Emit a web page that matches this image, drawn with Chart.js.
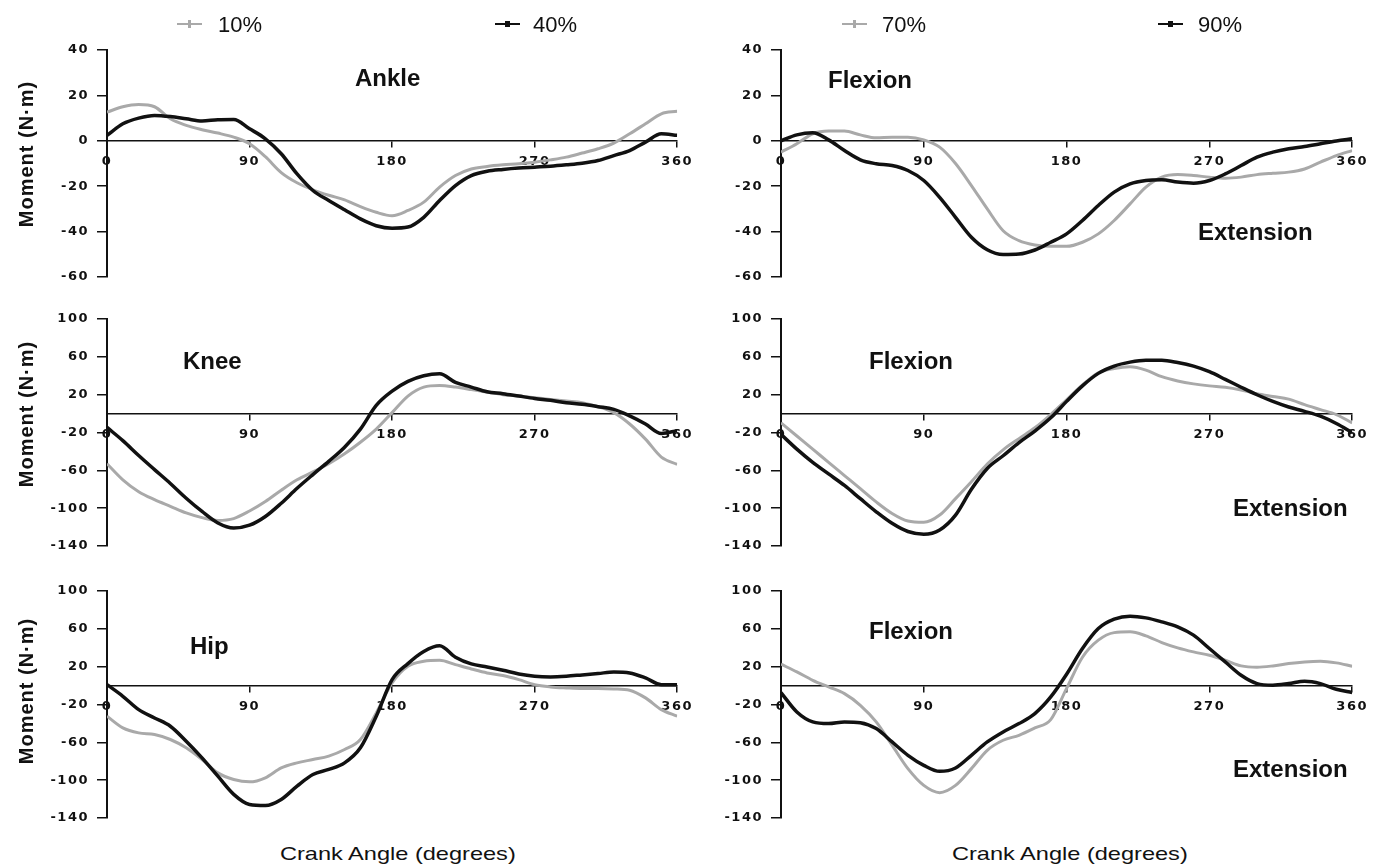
<!DOCTYPE html>
<html>
<head>
<meta charset="utf-8">
<script src="https://cdn.jsdelivr.net/npm/chart.js@4.4.1/dist/chart.umd.min.js"></script>
<style>
body { margin: 0; background: #fff; overflow: hidden; }
#wrap { position: relative; width: 1375px; height: 864px; font-family: "Liberation Sans", Arial, sans-serif; color: #111; }
canvas { position: absolute; }
.lbl { position: absolute; font-weight: bold; font-size: 24px; line-height: 1; white-space: nowrap; transform: translateY(-50%); }
.ytitle { position: absolute; font-weight: bold; font-size: 20px; letter-spacing: 1px; white-space: nowrap; line-height: 1; transform: translate(-50%, -50%) rotate(-90deg); }
.xtitle { position: absolute; font-size: 19px; white-space: nowrap; line-height: 1; transform-origin: left center; transform: translateY(-50%) scaleX(1.24); }
.leg { position: absolute; font-size: 22px; line-height: 1; transform: translateY(-50%); }
.legline { position: absolute; height: 2px; width: 25px; }
.legmark { position: absolute; }
</style>
</head>
<body>
<div id="wrap">
  <canvas id="c1"></canvas>
  <canvas id="c2"></canvas>
  <canvas id="c3"></canvas>
  <canvas id="c4"></canvas>
  <canvas id="c5"></canvas>
  <canvas id="c6"></canvas>
</div>
<script>
// crank angle (degrees)
const angles = [0,10,20,30,40,50,60,70,80,90,100,110,120,130,140,150,160,170,180,190,200,210,220,230,240,250,260,270,280,290,300,310,320,330,340,350,360]

// moments (N·m)
const ankle10 = [12.6,15,16,15,9.7,6.8,4.9,3.4,1.6,-1.3,-7,-14,-18.5,-21.6,-24,-26,-29,-31.5,-33,-30.7,-27,-20.4,-15.3,-12.4,-11.3,-10.6,-10.1,-9.4,-8.4,-7.2,-5.4,-3.5,-1,3.1,7.5,11.9,13]
const ankle40 = [2.4,7.5,10,11.2,10.7,9.7,8.7,9.3,9.4,5.3,0.9,-5.7,-14.6,-21.9,-26.3,-30.4,-34.4,-37.4,-38.5,-38,-33.7,-26.3,-19.7,-15.3,-13.4,-12.6,-12,-11.6,-11.2,-10.6,-9.9,-8.7,-6.5,-4.3,-0.6,3.1,2.4]
const ankle70 = [-5,-1.3,3.1,4.3,4.3,2.6,1.3,1.6,1.6,0.4,-2.8,-10,-19.7,-30,-39.6,-44,-45.9,-46.5,-46.5,-44.7,-41,-35.1,-27.8,-20.4,-16,-14.9,-15.3,-16,-16.5,-16,-14.9,-14.3,-13.8,-12.4,-9.4,-6.5,-4.3]
const ankle90 = [0,2.6,3.5,0.4,-4.3,-8.4,-10.1,-10.9,-13.1,-17.5,-24.9,-33.7,-42.5,-48,-50.1,-49.9,-48.1,-44.7,-41,-35.1,-28.5,-22.6,-19,-17.5,-17.2,-18.2,-18.7,-17.5,-14.6,-10.9,-7.2,-5,-3.5,-2.5,-1.3,-0.1,0.9]

const knee10 = [-53,-70,-82.6,-91,-98,-105,-110,-113,-111,-103,-93,-81,-70,-61.7,-53,-42.5,-30.3,-16.4,1,18.5,28,29.6,28,25.4,22.6,20,18.5,16.7,15,13.2,11.5,7.3,1,-11,-27,-46,-53.7]
const knee40 = [-14.6,-28.6,-44.3,-59.2,-73.9,-89.5,-103.5,-115.7,-121,-118,-108.8,-94.8,-79,-64.5,-50.5,-35.5,-16.4,8.7,23.7,34,40,42,33,28,23,21,18.5,16,14,11.5,9.8,7.3,4.5,-2.4,-11,-21,-18]
const knee70 = [-9.8,-23.7,-37.6,-51.6,-65.5,-79.4,-93.4,-105.6,-113.6,-115,-107.3,-89.9,-72,-53.3,-38.3,-26.5,-15,-1,14.6,30.3,43.2,47.7,49.5,46,39,34.5,31.4,29.3,27.9,25,21,18.1,15.3,9.4,4.2,-1,-9.8]
const knee90 = [-22,-37.6,-51.6,-63.8,-76,-90,-103.8,-116,-124.7,-127.5,-123,-107.3,-80,-58,-44.6,-30.7,-18.5,-4.5,12.9,29.3,42.5,50.2,54.4,56.4,56.4,54,50.2,44.3,36.2,27.9,19.9,12.9,7,2.4,-2.8,-10.5,-20]

const hip10 = [-32.4,-44.7,-50,-51.8,-57,-65.8,-78.2,-92.3,-99.3,-101.8,-97.5,-87,-81.7,-78.2,-74.6,-67.6,-57,-28.9,2.8,20.4,25.7,26.8,22.2,17.6,13.4,10.6,6.3,1,-1.4,-2.5,-3.2,-3.2,-3.5,-4.9,-13,-25.4,-32.4]
const hip40 = [1,-11.3,-25.4,-34.2,-43,-58.8,-76.4,-95.8,-115,-125.7,-126.8,-120.4,-106.3,-94,-88.7,-81.7,-65.8,-32.4,6.3,23.2,36,42,30,22.9,19.7,16.2,12.3,9.9,9.2,9.9,11.3,12.7,14.4,13.4,8.1,1,1]
const hip70 = [22.6,14.5,5.6,-1.4,-8.5,-20.8,-38.4,-63,-87.8,-105.5,-113.2,-105.5,-87.8,-68.4,-57.8,-52.6,-44.8,-36,-3,30,48,56,56.8,52.6,45.5,39.9,35.6,32,26.8,20.8,19.4,20.8,23.3,25,25.7,24,20.5]
const hip90 = [-7.4,-27.9,-38.4,-40.2,-38.4,-39.2,-45.5,-59.6,-73.7,-84.3,-90.7,-87.1,-73.7,-59.6,-49,-40.2,-29.6,-12,12,39.2,60.3,70.2,73.4,71.6,67.4,62.1,53.3,39.2,25,10.9,2.1,0.4,2.1,4.6,2.1,-3.9,-7.4]

const leftNames = ['10%', '40%']
const rightNames = ['70%', '90%']
const joints = ['Ankle', 'Knee', 'Hip']

const grey = '#a9a9a9'
const black = '#111111'

// placement of each column / row of panels
const cols = {
    left: { left: 0, width: 700, axisX: 107, right: 682 },
    right: { left: 700, width: 675, axisX: 781, right: 1355 }
}
const rowTops = [50, 319, 591]
const plotH = 227

// wider tick text, like the original figure
const spacing = {
    id: 'spacing',
    beforeLayout(chart) { chart.ctx.letterSpacing = '1.5px' },
    beforeDraw(chart) { chart.ctx.letterSpacing = '1.5px' }
}

const tickFont = { family: 'DejaVu Sans', weight: 'bold', size: 13 }

function toPoints(values) {
    return values.map((v, i) => ({ x: angles[i], y: v }))
}

function makeChart(id, col, row, yMin, yMax, yStep, light, dark) {
    let cv = document.getElementById(id)
    let top = rowTops[row] - 20
    cv.style.left = col.left + 'px'
    cv.style.top = top + 'px'
    cv.width = col.width
    cv.height = plotH + 40
    new Chart(cv, {
        type: 'line',
        data: {
            datasets: [
                { data: toPoints(light), borderColor: grey, borderWidth: 3, order: 2 },
                { data: toPoints(dark), borderColor: black, borderWidth: 3.5, order: 1 }
            ]
        },
        options: {
            responsive: false,
            animation: false,
            events: [],
            layout: { padding: { left: 0, top: 20, bottom: 20, right: col.left + col.width - col.right } },
            plugins: { legend: { display: false }, tooltip: { enabled: false } },
            elements: {
                point: { radius: 0 },
                line: { tension: 0.4, cubicInterpolationMode: 'monotone', fill: false }
            },
            scales: {
                x: {
                    type: 'linear', min: 0, max: 360, position: { y: 0 },
                    ticks: { stepSize: 90, color: black, font: tickFont, padding: 7, maxRotation: 0, autoSkip: false },
                    grid: { drawOnChartArea: false, drawTicks: true, tickLength: 6, color: black, lineWidth: 1.5 },
                    border: { display: true, color: black, width: 1.5 }
                },
                y: {
                    type: 'linear', min: yMin, max: yMax, position: 'left',
                    ticks: { stepSize: yStep, color: black, font: tickFont, padding: 8 },
                    grid: { drawOnChartArea: false, drawTicks: true, tickLength: 10, color: black, lineWidth: 1.5 },
                    border: { display: true, color: black, width: 2 },
                    afterFit: s => { s.width = col.axisX - col.left }
                }
            }
        },
        plugins: [spacing]
    })
}

makeChart('c1', cols.left, 0, -60, 40, 20, ankle10, ankle40)
makeChart('c2', cols.right, 0, -60, 40, 20, ankle70, ankle90)
makeChart('c3', cols.left, 1, -140, 100, 40, knee10, knee40)
makeChart('c4', cols.right, 1, -140, 100, 40, knee70, knee90)
makeChart('c5', cols.left, 2, -140, 100, 40, hip10, hip40)
makeChart('c6', cols.right, 2, -140, 100, 40, hip70, hip90)

// text on top of the charts
const wrap = document.getElementById('wrap')
function addText(cls, text, x, y) {
    let d = document.createElement('div')
    d.className = cls
    d.textContent = text
    d.style.left = x + 'px'
    d.style.top = y + 'px'
    wrap.appendChild(d)
    return d
}

// legend: line + marker + name
function legendItem(name, lineX, textX, color, square) {
    let l = document.createElement('div')
    l.className = 'legline'
    l.style.left = lineX + 'px'
    l.style.top = '23px'
    l.style.background = color
    wrap.appendChild(l)
    let m = document.createElement('div')
    m.className = 'legmark'
    if (square) {
        m.style.cssText = 'left:' + (lineX + 10) + 'px;top:21px;width:5px;height:6px;background:' + color
    } else {
        m.style.cssText = 'left:' + (lineX + 11) + 'px;top:20px;width:3px;height:8px;background:' + color
    }
    wrap.appendChild(m)
    addText('leg', name, textX, 25)
}
legendItem(leftNames[0], 177, 218, grey, false)
legendItem(leftNames[1], 495, 533, black, true)
legendItem(rightNames[0], 842, 882, grey, false)
legendItem(rightNames[1], 1158, 1198, black, true)

addText('lbl', joints[0], 355, 78)
addText('lbl', joints[1], 183, 361)
addText('lbl', joints[2], 190, 646)
addText('lbl', 'Flexion', 828, 80)
addText('lbl', 'Flexion', 869, 361)
addText('lbl', 'Flexion', 869, 631)
addText('lbl', 'Extension', 1198, 232)
addText('lbl', 'Extension', 1233, 508)
addText('lbl', 'Extension', 1233, 769)

addText('ytitle', 'Moment (N·m)', 26, 154)
addText('ytitle', 'Moment (N·m)', 26, 414)
addText('ytitle', 'Moment (N·m)', 26, 691)

addText('xtitle', 'Crank Angle (degrees)', 280, 853)
addText('xtitle', 'Crank Angle (degrees)', 952, 853)
</script>
</body>
</html>
